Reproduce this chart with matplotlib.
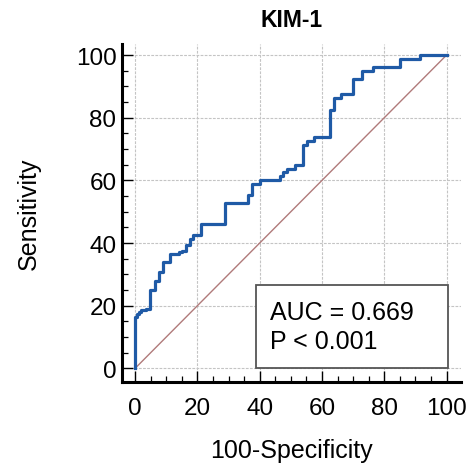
import matplotlib.pyplot as plt
from matplotlib.patches import Rectangle
from matplotlib.ticker import MultipleLocator

# ROC curve points for KIM-1 (100-Specificity, Sensitivity), step corners
fpr = [0, 0, 0.7, 1.4, 2.0, 3.6, 4.9, 6.3, 7.8, 9.0, 11.3, 14.0, 15.1, 16.3,
       17.5, 18.7, 21.3, 29.0, 36.4, 37.4, 40.1, 46.4, 47.5, 48.8, 51.2,
       53.8, 55.1, 57.4, 62.6, 63.7, 66.2, 70.0, 72.8, 76.4, 85.2, 91.4, 100]
tpr = [0, 16.3, 17.3, 18.0, 18.7, 19.0, 25.0, 27.8, 30.6, 33.8, 36.5, 37.0,
       37.5, 39.3, 41.3, 42.5, 46.2, 52.7, 55.2, 58.7, 60.0, 61.5, 62.7,
       63.7, 65.0, 71.4, 72.6, 73.7, 82.4, 86.3, 87.6, 92.5, 95.0, 96.1,
       98.6, 100, 100]

auc_text = "AUC = 0.669\nP < 0.001"
ticks = [0, 20, 40, 60, 80, 100]

plt.rcParams['font.family'] = ['Liberation Sans', 'DejaVu Sans']

fig = plt.figure(figsize=(4.74, 4.64), dpi=100)
ax = fig.add_axes([0.2574, 0.1756, 0.7143, 0.7272])

ax.set_xlim(-4.2, 104.5)
ax.set_ylim(-4.2, 103.5)

# grid
ax.grid(True, which='major', color='#c4c4c4', linestyle=(0, (2.5, 1.2)), linewidth=0.8)
ax.set_axisbelow(True)

# diagonal reference
ax.plot([0, 100], [0, 100], color='#b07a7a', linewidth=1.0)

# ROC curve
ax.step(fpr, tpr, where='post', color='#1f5aa6', linewidth=2.3)

# AUC box
box = Rectangle((38.8, 0), 61.8, 26.6, facecolor='white', edgecolor='#555555',
                linewidth=1.3, zorder=4)
ax.add_patch(box)
ax.text(43.3, 13.3, auc_text, fontsize=18, va='center', ha='left',
        linespacing=1.25, zorder=5)

# spines / ticks
for s in ['top', 'right']:
    ax.spines[s].set_visible(False)
for s in ['left', 'bottom']:
    ax.spines[s].set_linewidth(2.2)

ax.set_xticks(ticks)
ax.set_yticks(ticks)
ax.xaxis.set_minor_locator(MultipleLocator(5))
ax.yaxis.set_minor_locator(MultipleLocator(5))
ax.tick_params(which='major', direction='in', length=8, width=1.0, labelsize=17.5)
ax.tick_params(which='minor', direction='in', length=4.5, width=0.9)
ax.tick_params(axis='x', which='major', pad=11)
ax.tick_params(axis='y', which='major', pad=4)

ax.set_xlabel('100-Specificity', fontsize=18, labelpad=14)
ax.set_ylabel('Sensitivity', fontsize=18, labelpad=25)
ax.set_title('KIM-1', fontsize=16.5, fontweight='bold', pad=13)

fig.savefig('out.png', dpi=100)
